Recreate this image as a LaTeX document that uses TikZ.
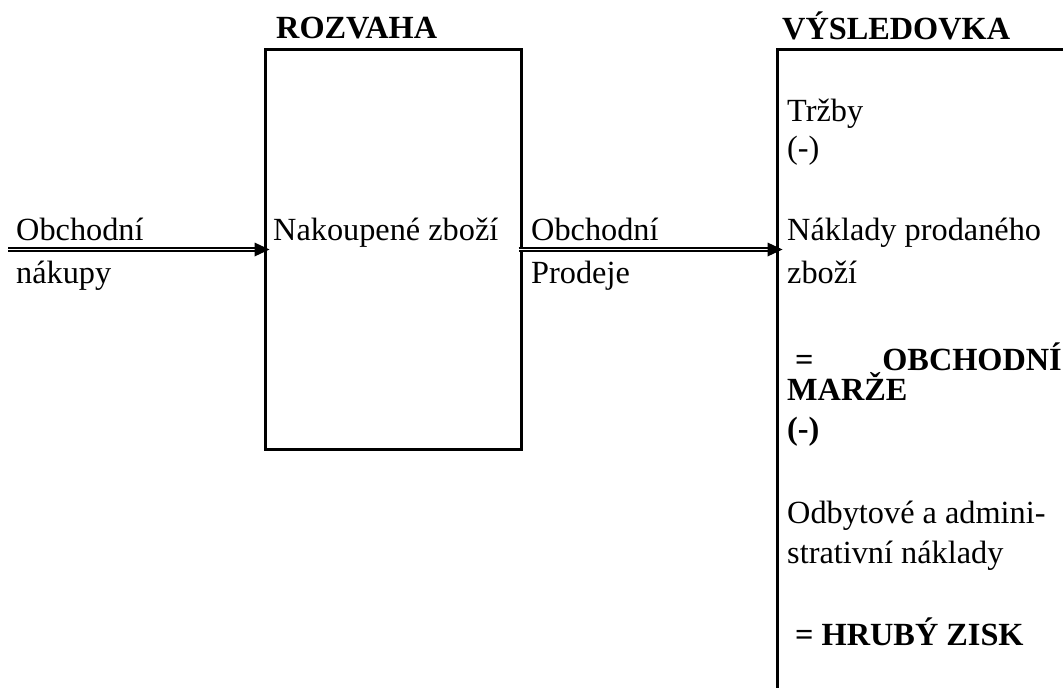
\documentclass[tikz,border=0pt]{standalone}
\usepackage{fontspec}
\setmainfont{Liberation Serif}
\begin{document}
\begin{tikzpicture}[x=1pt,y=-1pt,
  txt/.style={anchor=base west, inner sep=0pt, font=\fontsize{32.3}{37}\selectfont},
  btxt/.style={anchor=base west, inner sep=0pt, font=\fontsize{32.3}{37}\selectfont\bfseries},
  frame/.style={draw, line width=3pt, inner sep=0pt},
  dbl/.style={draw, double, double distance=1pt, line width=2pt},
  tipfill/.style={fill=black}]
\useasboundingbox (0,0) rectangle (1063,688);
% headings
\node[btxt] (h1) at (276,38) {ROZVAHA};
\node[btxt] (h2) at (782,39) {VÝSLEDOVKA};
% balance sheet box
\node[frame, minimum width=256pt, minimum height=400pt] (bal) at (393,249.5) {};
% income statement open box
\coordinate (vs) at (777.5,49.5);
\coordinate (ve) at (1063,49.5);
\coordinate (vb) at (777.5,688);
\draw[line width=3pt] (ve) -- (vs) -- (vb);
% arrows
\coordinate (in) at (8,249.5);
\coordinate (t1) at ([xshift=6pt]bal.west);
\draw[dbl] (in) -- ([xshift=-9pt]t1);
\fill[tipfill] (t1) -- ++(-15,-7) -- ++(0,14) -- cycle;
\coordinate (t2) at ([xshift=5pt]vs |- bal.east);
\draw[dbl] ([xshift=-4pt]bal.east) -- ([xshift=-9pt]t2);
\fill[tipfill] (t2) -- ++(-15,-7) -- ++(0,14) -- cycle;
% texts
\node[txt] (l1) at (16,240) {Obchodní};
\node[txt] (l2) at (16,283) {nákupy};
\node[txt] (nz) at (273,240) {Nakoupené zboží};
\node[txt] (m1) at (531,240) {Obchodní};
\node[txt] (m2) at (531,283) {Prodeje};
\node[txt] (r1) at (787,121) {Tržby};
\node[txt] (r2) at (787,158) {(-)};
\node[txt] (r3) at (787,240) {Náklady prodaného};
\node[txt] (r4) at (787,283) {zboží};
\node[btxt] (r5a) at (795,370) {=};
\node[btxt, anchor=base east] (r5b) at (1062,370) {OBCHODNÍ};
\node[btxt] (r6) at (787,400) {MARŽE};
\node[btxt] (r7) at (787,439) {(-)};
\node[txt] (r8) at (787,523) {Odbytové a admini-};
\node[txt] (r9) at (787,563) {strativní náklady};
\node[btxt] (r10) at (795,645) {= HRUBÝ ZISK};
\end{tikzpicture}
\end{document}
